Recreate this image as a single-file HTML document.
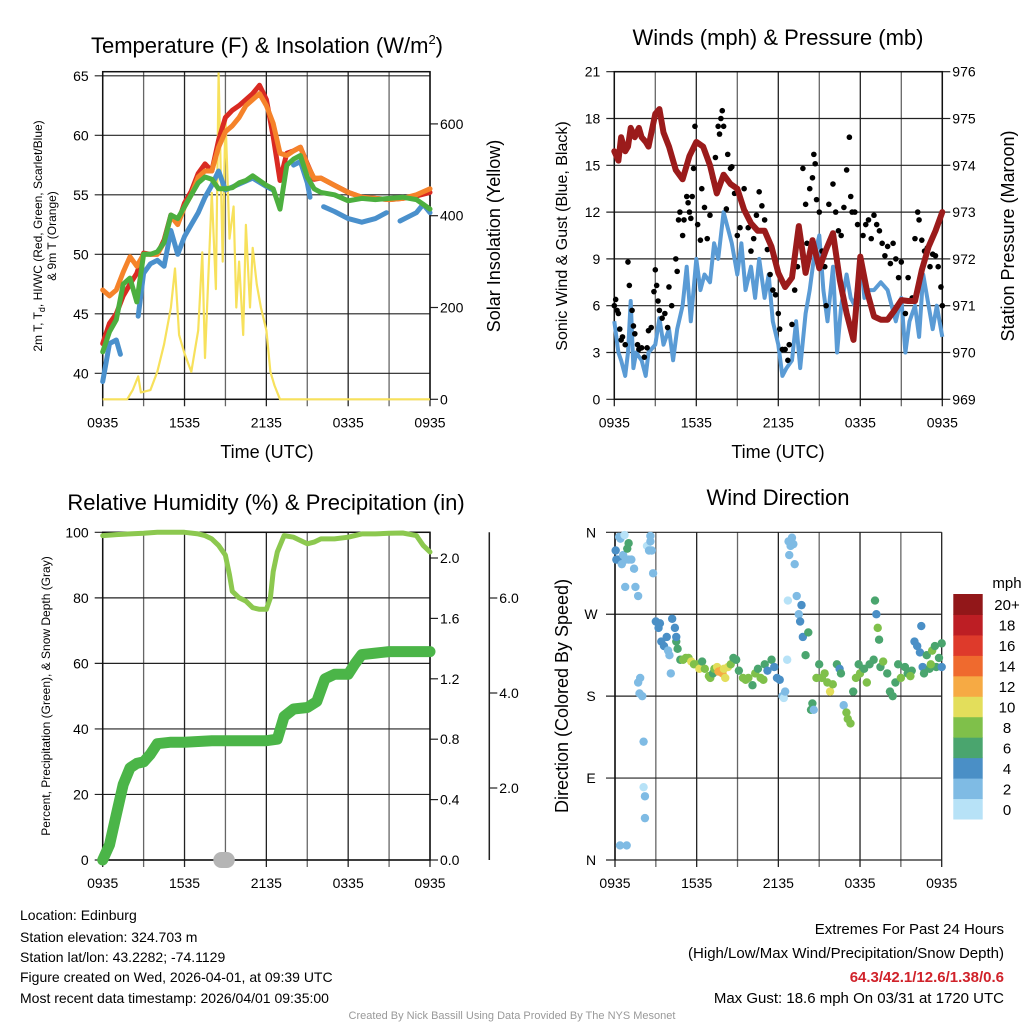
<!DOCTYPE html>
<html><head><meta charset="utf-8"><style>
html,body{margin:0;padding:0;background:#fff;}
svg{display:block;font-family:"Liberation Sans",Arial,sans-serif;}
</style></head><body>
<svg id="chart" width="1024" height="1024" viewBox="0 0 1024 1024" xmlns="http://www.w3.org/2000/svg">
<rect x="0" y="0" width="1024" height="1024" fill="#fff"/>
<text x="267" y="53" font-size="22" text-anchor="middle">Temperature (F) &amp; Insolation (W/m<tspan font-size="13" dy="-9">2</tspan><tspan dy="9">)</tspan></text>
<text x="778" y="45" font-size="22" text-anchor="middle">Winds (mph) &amp; Pressure (mb)</text>
<text x="266" y="510" font-size="22" text-anchor="middle">Relative Humidity (%) &amp; Precipitation (in)</text>
<text x="778" y="505" font-size="22" text-anchor="middle">Wind Direction</text>
<text x="267" y="458" font-size="18" text-anchor="middle">Time (UTC)</text>
<text x="778" y="458" font-size="18" text-anchor="middle">Time (UTC)</text>
<text transform="translate(42,236) rotate(-90)" font-size="12" text-anchor="middle">2m T, T<tspan font-size="9" dy="3">d</tspan><tspan dy="-3">, HI/WC (Red, Green, Scarlet/Blue)</tspan></text>
<text transform="translate(56,236) rotate(-90)" font-size="12" text-anchor="middle">&amp; 9m T (Orange)</text>
<text transform="translate(500,236) rotate(-90)" font-size="18" text-anchor="middle">Solar Insolation (Yellow)</text>
<text transform="translate(567,236) rotate(-90)" font-size="16" text-anchor="middle">Sonic Wind &amp; Gust (Blue, Black)</text>
<text transform="translate(1014,236) rotate(-90)" font-size="18" text-anchor="middle">Station Pressure (Maroon)</text>
<text transform="translate(50,696) rotate(-90)" font-size="12" text-anchor="middle">Percent, Precipitation (Green), &amp; Snow Depth (Gray)</text>
<text transform="translate(568,696) rotate(-90)" font-size="18" text-anchor="middle">Direction (Colored By Speed)</text>
<g font-size="14">
<text x="20" y="920">Location: Edinburg</text>
<text x="20" y="942">Station elevation: 324.703 m</text>
<text x="20" y="962">Station lat/lon: 43.2282; -74.1129</text>
<text x="20" y="982">Figure created on Wed, 2026-04-01, at 09:39 UTC</text>
<text x="20" y="1003">Most recent data timestamp: 2026/04/01 09:35:00</text>
</g>
<g font-size="15" text-anchor="end">
<text x="1004" y="934">Extremes For Past 24 Hours</text>
<text x="1004" y="958">(High/Low/Max Wind/Precipitation/Snow Depth)</text>
<text x="1004" y="982" fill="#d0222a" font-weight="bold">64.3/42.1/12.6/1.38/0.6</text>
<text x="1004" y="1003">Max Gust: 18.6 mph On 03/31 at 1720 UTC</text>
</g>
<text x="512" y="1019" font-size="11" fill="#999" text-anchor="middle">Created By Nick Bassill Using Data Provided By The NYS Mesonet</text>
<g id="layer"></g>
</svg>
<script>
// ---- Data arrays ----
const timeTicks = ["0935","1535","2135","0335","0935"];
const tempTicks = [40,45,50,55,60,65];
const solarTicks = [0,200,400,600];
const windTicks = [0,3,6,9,12,15,18,21];
const pressTicks = [969,970,971,972,973,974,975,976];
const rhTicks = [0,20,40,60,80,100];
const precipTicks = [0.0,0.4,0.8,1.2,1.6,2.0];
const snowTicks = [2.0,4.0,6.0];
const dirLabels = ["N","E","S","W","N"];
const dirTickVals = [0,90,180,270,360];
const cbarLabels = ["0","2","4","6","8","10","12","14","16","18","20+"];

const redT = [0,0.5,1,1.5,2,2.5,3,3.5,4,4.5,5,5.5,6,6.5,7,7.5,8,8.5,9,9.5,10,10.5,11,11.5,12,12.5,13,13.5,14,14.5,15,15.5,16,17,18,19,20,21,22,23,24];
const redV = [42.5,44.2,45,46.5,47.5,48.4,50.1,50,50,51.2,53.3,52.6,54.3,55.3,56.8,57.6,57,59.6,61.5,62.1,62.5,63,63.5,64.2,63,59.9,56.2,58.5,58.7,59,57.6,56.3,56.4,55.8,55.2,54.8,54.7,54.6,54.7,54.9,55.2];
const orangeV = [47,46.5,47,48.5,49.8,49,50,50,50,51,53.2,52.5,54,55,56.5,57,57,59,60.3,60.8,61.5,62.5,63,63.5,62.5,61,58.5,58.3,58.7,59,57.5,56.4,56.4,55.8,55.2,54.8,54.7,54.6,54.7,55,55.5];
const greenV = [41.8,43.5,44.5,47.5,48,46,50,50,50.2,51,53.3,53,54,55,56,56.5,56.3,55.5,55.5,55.6,56,56.2,56.6,56.2,55.8,55.5,53.8,57.5,58,58.3,56.5,55.5,55.2,55,54.5,54.7,54.6,54.7,54.8,54.6,53.8];
const blueT = [0,0.5,1,1.3,null,2.6,3,3.5,4,4.5,5,5.5,6,6.5,7,7.5,8,8.5,9,10,11,12,12.5,null,14,14.5,15,15.2,null,16.2,17,18,19,20,20.8,null,21.8,22.5,23,23.5,24];
const blueV = [39.3,42.5,42.8,41.6,null,44.8,48.4,49.2,49.5,49,52,50,51.5,52.5,53.5,54.8,55.8,57,55.4,55.9,56.4,55.7,55.4,null,57.5,57.8,56,54.8,null,54,53.6,53,52.7,53,53.5,null,52.8,53.2,53.5,54.2,53.5];
const solarT = [0,1.8,2.2,2.6,2.8,3.5,4,4.5,5,5.3,5.6,6,6.5,7,7.3,7.5,8,8.3,8.5,8.8,9,9.3,9.6,9.8,10,10.3,10.5,10.8,11,11.3,11.6,12,12.3,12.6,13,24];
const solarV = [0,0,20,50,15,20,60,120,200,285,140,100,60,150,320,90,450,240,710,300,620,350,420,200,300,140,380,200,330,250,200,150,60,30,0,0];

const windT = [0,0.3,0.5,0.8,1,1.2,1.4,1.6,2,2.3,2.5,3,3.3,3.6,4,4.3,4.6,5,5.3,5.6,6,6.3,6.6,7,7.3,7.6,8,8.3,8.6,9,9.3,9.6,10,10.3,10.6,11,11.3,11.6,12,12.3,12.6,13,13.3,13.6,14,14.3,14.6,15,15.3,15.6,16,16.3,16.6,17,17.3,17.6,18,18.3,18.6,19,19.5,20,20.3,20.6,21,21.3,21.6,22,22.3,22.6,23,23.3,23.6,24];
const windV = [5,3,2.5,1.5,3,6.3,2,3,2.5,1.5,3,3.5,5.2,3.5,4.5,2.5,4.5,6,8.5,5,9,7,8,7.5,10,9,12,11,10,8,10,7,8.5,6.5,9,6.5,8,5,3.5,1.5,2,2.5,5,2,5.5,7,9,10.5,7,5,8.5,3,6,8,6.5,6,9,6.5,7,7,7.5,7,6,5,6.5,3,5,6,4,8,6,4.5,6,4];
const pressT = [0,0.3,0.5,0.8,1,1.2,1.5,1.8,2,2.3,2.5,3,3.3,3.6,4,4.5,5,5.5,6,6.5,7,7.5,8,8.5,9,9.5,10,10.5,11,11.5,12,12.5,13,13.5,14,14.5,15,15.5,16,16.5,17,17.5,18,18.5,19,19.5,20,20.5,21,21.5,22,22.5,23,23.5,24];
const pressV = [974.3,974.1,974.6,974.3,974.4,974.8,974.6,974.8,974.6,974.5,974.4,975.1,975.2,974.7,974.4,973.9,973.7,974.2,974.5,974.4,974,973.4,973.8,973.6,973.5,973.05,972.76,972.6,972.6,972.26,971.7,971.4,971.6,972.7,971.7,972.4,971.8,972.2,972.55,971.55,970.84,970.27,972.05,971.3,970.77,970.7,970.7,970.9,971.12,971.1,971.1,971.76,972.26,972.6,973];
const gustT = [0,0.1,0.2,0.3,0.4,0.5,0.6,0.8,1,1.1,1.3,1.4,1.5,1.7,1.8,2,2.2,2.4,2.5,2.7,2.9,3,3.1,3.2,3.3,3.5,3.7,3.9,4,4.2,4.5,4.6,4.7,4.8,5,5.1,5.3,5.4,5.5,5.6,5.7,5.8,5.9,6.1,6.3,6.4,6.6,6.8,7,7.2,7.4,7.6,7.7,7.8,7.9,8,8.2,8.3,8.5,8.6,8.8,9,9.2,9.5,9.6,9.8,10,10.2,10.4,10.5,10.6,10.8,11,11.2,11.4,11.6,11.8,12,12.1,12.3,12.5,12.7,12.8,13,13.2,13.4,13.6,13.8,14,14.1,14.3,14.5,14.6,14.7,14.8,15,15.2,15.4,15.5,15.7,16,16.2,16.4,16.6,16.8,17,17.2,17.3,17.4,17.6,17.8,18,18.2,18.4,18.6,18.8,19,19.2,19.4,19.6,19.8,20,20.2,20.4,20.6,20.8,21,21.3,21.5,21.8,22,22.2,22.3,22.5,22.7,22.9,23.1,23.3,23.5,23.7,23.9,24];
const gustV = [6,6.4,5.7,5.5,4.5,3.8,4,3.5,8.8,7.3,5.7,4.7,4.2,3.5,3.2,3.3,2.7,3.3,4.4,4.6,6.9,8.3,7.3,6.3,5.7,5.2,5.5,4.6,7.2,6,9,8.2,11.5,12,10.5,11.5,13,12.6,12,11.6,13,14.8,17.5,11.2,10.2,13.5,12.3,10.3,11.8,14.2,15.5,17.5,17,18,18.5,17.5,12.2,15.7,14.8,14.9,13.2,10.5,11,13.5,12,11,9.5,10.3,11.8,10.8,13.3,12.4,11.5,9.6,8,7,6.7,5.5,4.5,3.2,3.2,2.5,3.5,4.8,7,8.5,10,14.8,12.5,10,13.5,14.2,15.7,15.1,12.8,12,9.5,8.5,6,12.5,13.8,12,10.8,10.5,12.3,14.7,16.8,13,12,12,11.2,8.5,10.5,11.2,11.5,10.3,11.8,11.2,10.8,10,9.2,9.8,8.7,10,9,7.8,8.8,5.5,7.8,6.5,10.3,12,11.5,10.2,9.5,9.7,8.5,9.3,9.2,8.5,7.2,6];

const rhT = [0,1,2,3,4,5,6,7,7.5,8,8.5,9,9.3,9.5,10,10.5,11,11.5,12,12.3,12.5,12.8,13,13.3,14,14.5,15,15.5,16,17,18,19,20,21,22,23,23.5,24];
const rhV = [99,99.3,99.5,99.7,100,100,100,99.5,99,98,96,93,87,82,80,79,77,76.5,76.5,80,88,94,96,99,98.5,97.5,96.5,97,98,98,98.5,99.5,99.5,99.7,99.8,99,96,94];
const precipT = [0,0.5,1,1.5,2,2.5,3,3.5,4,5,6,8,10,12,12.8,13.3,14,15,15.7,16.3,17,18,18.5,19,20,21,24];
const precipV = [0,0.1,0.3,0.5,0.61,0.64,0.65,0.7,0.77,0.78,0.78,0.79,0.79,0.79,0.8,0.95,1.0,1.01,1.05,1.2,1.23,1.23,1.3,1.36,1.37,1.38,1.38];
const snowT = [8.7,8.9,9.1];
const snowV = [0,0,0];

const dirT = [0.05,0.1,0.2,0.3,0.4,0.5,0.6,0.7,0.75,0.8,0.9,1.0,1.0,1.2,1.4,1.5,1.7,1.7,1.8,1.85,2.0,2.1,2.1,2.2,2.2,2.35,2.5,2.6,2.6,2.7,2.8,0.37,0.86,3.0,3.2,3.3,3.4,3.6,3.8,3.9,4.0,4.1,4.2,4.4,4.5,4.5,4.6,4.8,5.0,5.2,5.4,5.6,5.8,6.0,6.2,6.4,6.6,6.9,7.0,7.2,7.3,7.5,7.6,7.8,7.9,8.0,8.1,8.3,8.5,8.7,8.9,9.1,9.4,9.6,9.8,10.1,10.3,10.5,10.7,10.9,11.0,11.2,11.5,11.7,11.9,12.1,12.3,12.4,12.5,12.65,12.7,12.75,12.8,12.9,13.0,13.1,13.2,13.35,13.5,13.6,13.7,13.8,14.0,14.2,14.4,14.5,14.6,14.8,15.0,15.2,15.4,15.6,15.8,16.0,16.3,16.5,16.6,16.8,17.0,17.1,17.3,17.5,17.7,17.9,18.0,18.3,18.5,18.7,19.0,19.1,19.2,19.3,19.4,19.5,19.7,20.0,20.2,20.4,20.6,20.8,21.0,21.3,21.5,21.8,22.0,22.2,22.4,22.5,22.6,22.9,23.1,23.3,23.5,23.6,23.8,24.0,24.0,22.7,23.2,21.7];
const dirV = [340,330,330,355,353,325,335,357,300,330,342,348,330,330,320,300,290,195,183,200,180,130,80,70,46,345,340,350,356,340,315,16,16,262,255,260,240,235,245,230,225,205,265,255,240,245,232,220,220,222,222,218,215,215,210,218,210,202,200,205,210,212,207,208,205,210,200,212,215,222,220,208,200,198,200,192,205,210,200,198,215,208,220,212,200,198,180,178,185,220,285,350,335,345,354,347,325,290,270,262,280,245,225,250,165,172,165,200,215,200,205,195,185,193,215,210,205,170,162,155,150,185,200,215,205,210,195,215,220,285,270,255,242,212,218,205,185,180,195,215,200,212,205,208,240,235,228,257,212,225,210,230,235,212,222,238,212,205,215,202];
const dirS = [4,4,4,3,2,3,3,1,3,3,6,6,3,3,3,3,2,3,3,3,3,3,1,3,3,1,3,3,3,3,3,3,3,4,4,4,4,4,4,3,3,3,4,4,6,4,6,6,8,8,8,10,8,8,10,6,8,8,8,6,8,10,12,13,12,10,10,10,8,6,6,6,8,8,8,6,8,6,8,8,6,4,6,4,4,4,3,1,3,1,1,3,3,3,3,3,3,3,2,4,4,4,6,6,6,6,2,8,6,8,8,8,10,8,6,4,6,2,8,8,8,6,8,6,8,6,8,6,6,6,4,8,6,6,8,6,6,6,6,6,8,6,6,6,4,4,4,4,4,6,6,8,6,6,6,6,4,6,8,8,6];
const cbarColors = ["#b7e2f7","#7fbbe4","#4a8fc6","#4aa56e","#7fc04a","#e3de5b","#f6aa44","#ef6a2e","#de3a2b","#bd1e24","#921719"];

// ---- helpers ----
const NS = "http://www.w3.org/2000/svg";
const layer = document.getElementById('layer');
function mk(tag, attrs, parent){
  const e = document.createElementNS(NS, tag);
  for (const k in attrs) e.setAttribute(k, attrs[k]);
  (parent || layer).appendChild(e);
  return e;
}
function pathFrom(xs, ys, fx, fy){
  let d = "", pen = false;
  for (let i=0;i<xs.length;i++){
    if (xs[i]===null || ys[i]===null){ pen=false; continue; }
    d += (pen ? "L" : "M") + fx(xs[i]).toFixed(1) + "," + fy(ys[i]).toFixed(1);
    pen = true;
  }
  return d;
}
function speedColor(s){ return cbarColors[Math.min(10, Math.max(0, Math.floor(s/2)))]; }

const P1 = {L:102.7,R:430,T:71.7,B:399.3};
const P2 = {L:614.3,R:942.3,T:71.7,B:399.3};
const P3 = {L:102.7,R:430,T:532.3,B:860};
const P4 = {L:615,R:941.7,T:532.3,B:860};
function xs(P){ return t => P.L + t/24*(P.R-P.L); }
const x1 = xs(P1), x2 = xs(P2), x3 = xs(P3), x4 = xs(P4);
const yTemp = v => 373.3 - (v-40)*11.9;
const ySolar = v => 399.3 - v*0.459;
const yWind = v => 399.3 - v*15.6;
const yPress = p => 399.3 - (p-969)*46.8;
const yRH = v => 860 - v*3.277;
const yPrecip = p => 860 - p*151;
const ySnow = s => 860 - s*47.5;
const yDir = d => 860 - d*(327.7/360);

function vgrid(P, fx, name){
  for (let h=0; h<=24; h+=3){
    const l = mk('line',{x1:fx(h),x2:fx(h),y1:P.T,y2:P.B+7,stroke:(h%6===0?'#222':'#666'),'stroke-width':1.3});
    
    
  }
  timeTicks.forEach((lab,i)=>{
    const t = mk('text',{x:fx(i*6),y:P.B+28,'font-size':14,'text-anchor':'middle'});
    t.textContent = lab;
    
    
  });
}
function hgrid(P, vals, fy, name, labelSide, fmt, extL){
  vals.forEach(v=>{
    const y = fy(v);
    const l = mk('line',{x1:P.L-(extL||8),x2:P.R,y1:y,y2:y,stroke:'#222','stroke-width':1.2});
    
    
    const t = mk('text',{x:P.L-14,y:y+5,'font-size':14,'text-anchor':'end'});
    t.textContent = fmt ? fmt(v) : v;
    
    
  });
}
function rightAxis(P, vals, fy, name, fmt, x0){
  const ax = x0 || P.R;
  vals.forEach(v=>{
    const y = fy(v);
    const l = mk('line',{x1:ax,x2:ax+8,y1:y,y2:y,stroke:'#222','stroke-width':1.2});
    
    
    const t = mk('text',{x:ax+10,y:y+5,'font-size':14});
    t.textContent = fmt ? fmt(v) : v;
    
    
  });
}
function frame(P, name){
  const r = mk('rect',{x:P.L,y:P.T,width:P.R-P.L,height:P.B-P.T,fill:'none',stroke:'#111','stroke-width':1.5});
  
  
}

// ---- Panel 1: Temperature ----
vgrid(P1, x1, 'temp');
hgrid(P1, tempTicks, yTemp, 'temp-y');
rightAxis(P1, solarTicks, ySolar, 'solar-y');
frame(P1, 'temp');
const solarLine = mk('path',{d:pathFrom(solarT, solarV, x1, ySolar),fill:'none',stroke:'#f7e15c','stroke-width':2.2,'stroke-linejoin':'round'});


const redLine = mk('path',{d:pathFrom(redT, redV, x1, yTemp),fill:'none',stroke:'#d92a22','stroke-width':5,'stroke-linejoin':'round','stroke-linecap':'round'});


const orangeLine = mk('path',{d:pathFrom(redT, orangeV, x1, yTemp),fill:'none',stroke:'#f5832a','stroke-width':5,'stroke-linejoin':'round','stroke-linecap':'round'});


const blueLine = mk('path',{d:pathFrom(blueT, blueV, x1, yTemp),fill:'none',stroke:'#4a90cc','stroke-width':5,'stroke-linejoin':'round','stroke-linecap':'round'});


const greenLine = mk('path',{d:pathFrom(redT, greenV, x1, yTemp),fill:'none',stroke:'#4caf3f','stroke-width':5,'stroke-linejoin':'round','stroke-linecap':'round'});



// ---- Panel 2: Winds ----
vgrid(P2, x2, 'wind');
hgrid(P2, windTicks, yWind, 'wind-y');
rightAxis(P2, pressTicks, yPress, 'pressure-y');
frame(P2, 'wind');
const windLine = mk('path',{d:pathFrom(windT, windV, x2, yWind),fill:'none',stroke:'#5a9bd5','stroke-width':4,'stroke-linejoin':'round'});


gustT.forEach((t,i)=>{
  const c = mk('circle',{cx:x2(t),cy:yWind(gustV[i]),r:2.8,fill:'#000'});
  
  
});
const pressLine = mk('path',{d:pathFrom(pressT, pressV, x2, yPress),fill:'none',stroke:'#9b1b1b','stroke-width':6,'stroke-linejoin':'round','stroke-linecap':'round'});



// ---- Panel 3: Humidity ----
vgrid(P3, x3, 'rh');
hgrid(P3, rhTicks, yRH, 'rh-y');
rightAxis(P3, precipTicks, yPrecip, 'precip-y', v=>v.toFixed(1));
const snowAxis = mk('line',{x1:489.3,x2:489.3,y1:532.3,y2:860,stroke:'#222','stroke-width':1.5});


rightAxis(P3, snowTicks, v=>883 - v*47.5, 'snow-y', v=>v.toFixed(1), 489.3);
frame(P3, 'rh');
const rhLine = mk('path',{d:pathFrom(rhT, rhV, x3, yRH),fill:'none',stroke:'#8cc84f','stroke-width':5,'stroke-linejoin':'round','stroke-linecap':'round'});


const precipLine = mk('path',{d:pathFrom(precipT, precipV, x3, yPrecip),fill:'none',stroke:'#4bb548','stroke-width':11,'stroke-linejoin':'round','stroke-linecap':'round'});


const snowLine = mk('path',{d:pathFrom(snowT, snowV, x3, ySnow),fill:'none',stroke:'#b5b5b5','stroke-width':16,'stroke-linecap':'round'});



// ---- Panel 4: Wind direction ----
for (let h=0; h<=24; h+=3){
  const l = mk('line',{x1:x4(h),x2:x4(h),y1:P4.T,y2:P4.B+7,stroke:(h%6===0?'#222':'#666'),'stroke-width':1.3});
  
  
}
timeTicks.forEach((lab,i)=>{
  const t = mk('text',{x:x4(i*6),y:P4.B+28,'font-size':14,'text-anchor':'middle'});
  t.textContent = lab;
  
  
});
dirTickVals.forEach((v,i)=>{
  const y = yDir(v);
  const l = mk('line',{x1:606,x2:P4.R,y1:y,y2:y,stroke:'#222','stroke-width':1.2});
  
  
  const t = mk('text',{x:591,y:y+5,'font-size':14,'text-anchor':'middle'});
  t.textContent = dirLabels[i];
  
  
});
const lax = mk('line',{x1:P4.L,x2:P4.L,y1:P4.T,y2:P4.B,stroke:'#111','stroke-width':1.5});


dirT.forEach((t,i)=>{
  const c = mk('circle',{cx:x4(t),cy:yDir(dirV[i]),r:4.2,fill:speedColor(dirS[i])});
  
  
});
// colorbar
const cbTop = 594, cbBot = 819, cbH = (cbBot-cbTop)/cbarColors.length;
cbarColors.forEach((col,i)=>{
  const y = cbBot - (i+1)*cbH;
  const r = mk('rect',{x:953.3,y:y,width:29.4,height:cbH+0.5,fill:col});
  
  
  const t = mk('text',{x:1007,y:y+cbH/2+6,'font-size':15,'text-anchor':'middle'});
  t.textContent = cbarLabels[i];
  
  
});
const mph = mk('text',{x:1007,y:588,'font-size':15,'text-anchor':'middle'});
mph.textContent = 'mph';


</script>
</body></html>
